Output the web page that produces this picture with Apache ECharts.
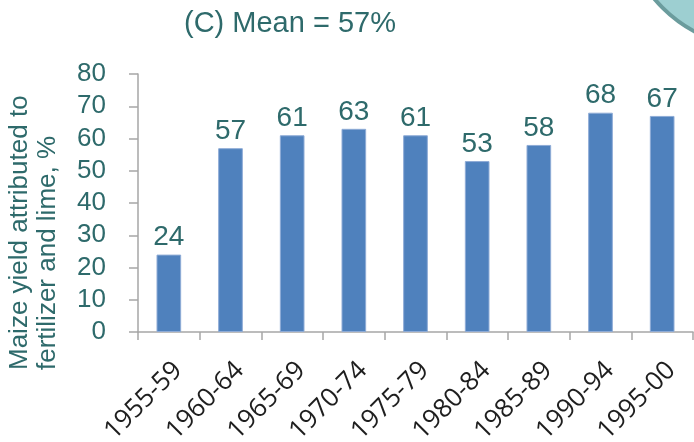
<!DOCTYPE html>
<html>
<head>
<meta charset="utf-8">
<script src="https://cdn.jsdelivr.net/npm/echarts@6/dist/echarts.min.js"></script>
<style>
  html, body { margin: 0; padding: 0; background: #fff; }
  #chart { width: 694px; height: 442px; }
</style>
</head>
<body>
<div id="chart"></div>
<script>
// Five-year periods and the share of maize yield attributed to fertilizer and lime (%)
const periods = ['1955-59', '1960-64', '1965-69', '1970-74', '1975-79', '1980-84', '1985-89', '1990-94', '1995-00'];
const yieldShare = [24, 57, 61, 63, 61, 53, 58, 68, 67];
const yTicks = [0, 10, 20, 30, 40, 50, 60, 70, 80];

const teal = '#2e6a6b';
const sans = '"Liberation Sans", Arial, sans-serif';

const chart = echarts.init(document.getElementById('chart'), null, { renderer: 'canvas' });

chart.setOption({
  backgroundColor: '#ffffff',
  animation: false,
  title: {
    text: '(C) Mean = 57%',
    left: 179,
    top: 4,
    textStyle: { color: teal, fontSize: 29, fontWeight: 'normal', fontFamily: sans }
  },
  graphic: [
    {
      type: 'circle',
      shape: { cx: 760, cy: -90, r: 138 },
      style: { fill: '#9dcfd1', stroke: '#6b9c9d', lineWidth: 4 },
      z: -1
    },
    {
      type: 'text',
      x: 6,
      y: 370,
      rotation: Math.PI / 2,
      style: {
        text: 'Maize yield attributed to\nfertilizer and lime, %',
        fill: teal,
        fontSize: 26,
        lineHeight: 28,
        fontFamily: sans,
        textAlign: 'left',
        textVerticalAlign: 'top'
      }
    }
  ],
  grid: { left: 138, right: 1, top: 74, bottom: 110, containLabel: false, outerBoundsMode: 'none' },
  xAxis: {
    type: 'category',
    data: periods,
    axisLine: { lineStyle: { color: '#a6a6a6', width: 1.5 } },
    axisTick: { show: true, length: 8, alignWithLabel: false, lineStyle: { color: '#a6a6a6', width: 1.5 } },
    axisLabel: {
      rotate: 45,
      margin: 25,
      verticalAlign: 'top',
      color: '#1e1e1e',
      fontSize: 26,
      fontFamily: '"Open Sans", sans-serif',
      interval: 0
    }
  },
  yAxis: {
    type: 'value',
    min: yTicks[0],
    max: yTicks[yTicks.length - 1],
    interval: 10,
    splitLine: { show: false },
    axisLine: { show: true, lineStyle: { color: '#a6a6a6', width: 1.5 } },
    axisTick: { show: true, length: 9, lineStyle: { color: '#a6a6a6', width: 1.5 } },
    axisLabel: { margin: 32, color: teal, fontSize: 26, fontFamily: sans }
  },
  series: [{
    type: 'bar',
    data: yieldShare,
    barWidth: '40%',
    itemStyle: { color: '#4f81bd', borderColor: '#8eabd6', borderWidth: 1 },
    label: {
      show: true,
      position: 'top',
      distance: 3,
      color: teal,
      fontSize: 28,
      fontFamily: sans
    }
  }]
});
</script>
</body>
</html>
